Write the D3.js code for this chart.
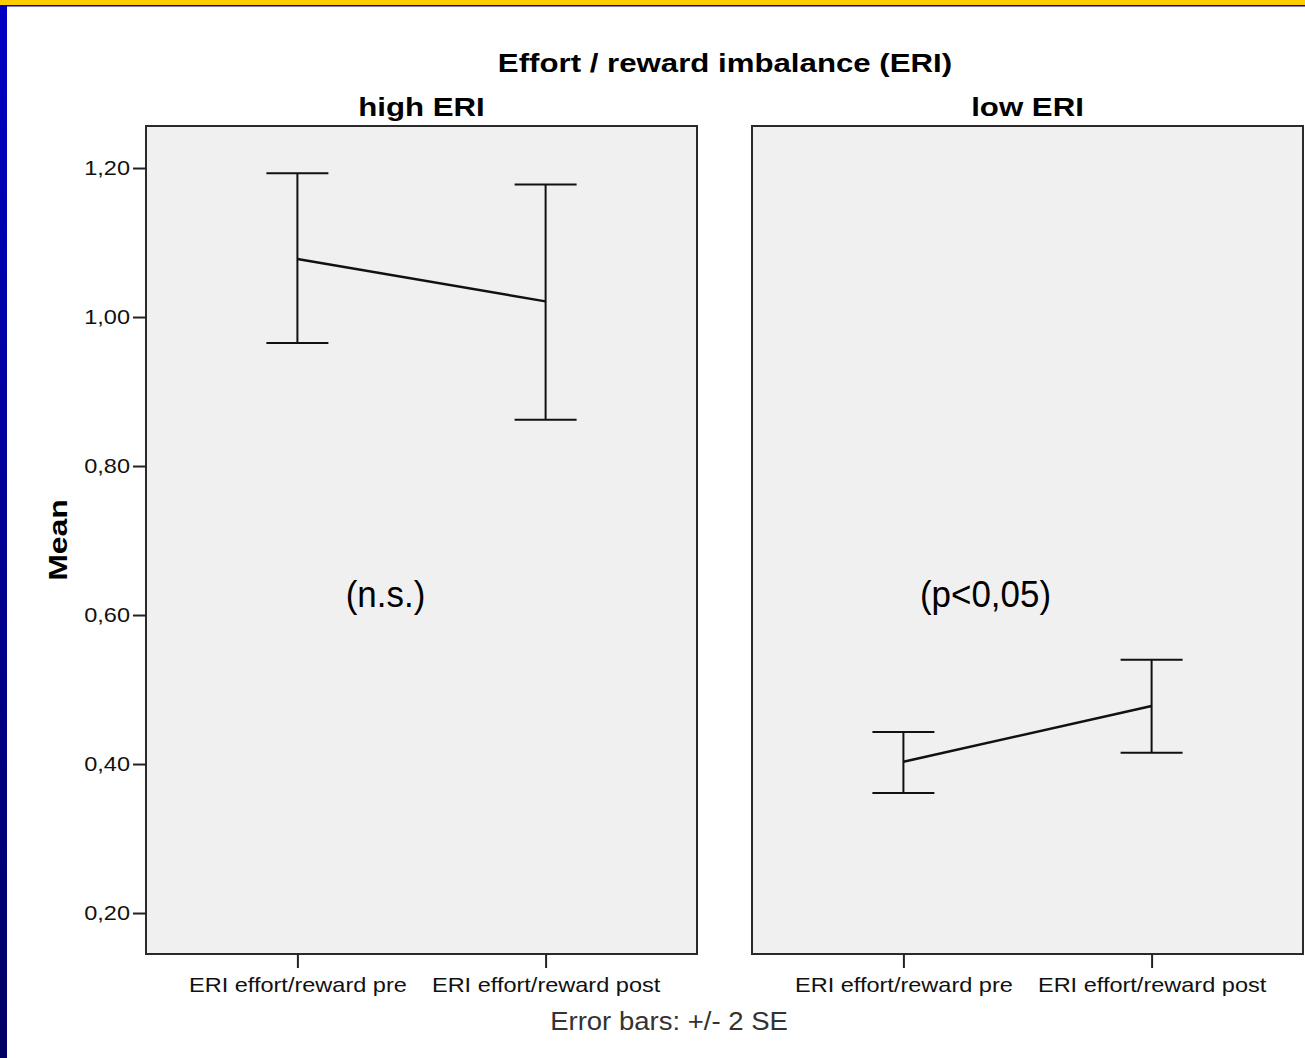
<!DOCTYPE html>
<html>
<head>
<meta charset="utf-8">
<script src="https://cdn.jsdelivr.net/npm/d3@7"></script>
<style>
  body { margin: 0; background: #fff; }
  svg { display: block; }
</style>
</head>
<body>
<div id="chart"></div>
<script>
var panels = ["high ERI", "low ERI"];
var categories = ["ERI effort/reward pre", "ERI effort/reward post"];
var means = [[1.078, 1.021], [0.403, 0.478]];
var upper = [[1.193, 1.178], [0.443, 0.540]];
var lower = [[0.965, 0.862], [0.361, 0.415]];
var notes = ["(n.s.)", "(p<0,05)"];
var yTicks = [0.2, 0.4, 0.6, 0.8, 1.0, 1.2];

// the original text is a bit wider than Arial, stretch it horizontally
function stretch(sel, k) {
  sel.each(function() {
    var w = this.getComputedTextLength();
    d3.select(this).attr("textLength", w * k).attr("lengthAdjust", "spacingAndGlyphs");
  });
}

function plot() {
  var width = 1305, height = 1058;
  var svg = d3.select("#chart").append("svg")
    .attr("width", width)
    .attr("height", height);

  // slide frame
  var grad = svg.append("defs").append("linearGradient")
    .attr("id", "side").attr("x1", 0).attr("y1", 0).attr("x2", 0).attr("y2", 1);
  grad.append("stop").attr("offset", "0%").attr("stop-color", "#0000c4");
  grad.append("stop").attr("offset", "100%").attr("stop-color", "#000064");
  svg.append("rect").attr("x", 0).attr("y", 0).attr("width", width).attr("height", 5).attr("fill", "#ffcc00");
  svg.append("rect").attr("x", 0).attr("y", 5).attr("width", width).attr("height", 1.5).attr("fill", "#0000c4");
  svg.append("rect").attr("x", 0).attr("y", 5).attr("width", 7).attr("height", height).attr("fill", "url(#side)");

  var top = 126, bottom = 954;
  var y = d3.scaleLinear().domain([0.1450, 1.2564]).range([bottom, top]);
  var panelX = [146, 752], panelW = 551;
  var noteShift = [-36, -42];

  var font = "'Liberation Sans', Arial, sans-serif";

  svg.append("text")
    .attr("x", 725).attr("y", 72)
    .attr("text-anchor", "middle")
    .style("font-family", font).style("font-weight", "bold").style("font-size", "26px")
    .text("Effort / reward imbalance (ERI)")
    .call(stretch, 1.2);

  panels.forEach(function(name, p) {
    var x0 = panelX[p];
    var x = d3.scalePoint().domain(categories).range([x0, x0 + panelW]).padding(0.61);
    var g = svg.append("g");

    g.append("rect")
      .attr("x", x0).attr("y", top)
      .attr("width", panelW).attr("height", bottom - top)
      .attr("fill", "#f0f0f0")
      .attr("stroke", "#2a2a2a").attr("stroke-width", 2);

    g.append("text")
      .attr("x", x0 + panelW / 2).attr("y", 116)
      .attr("text-anchor", "middle")
      .style("font-family", font).style("font-weight", "bold").style("font-size", "26px")
      .text(name)
      .call(stretch, 1.2);

    // x axis
    var xa = g.append("g").attr("transform", "translate(0," + bottom + ")")
      .call(d3.axisBottom(x).tickSizeOuter(0).tickSizeInner(14).tickPadding(9));
    xa.select(".domain").remove();
    xa.selectAll("line").attr("stroke", "#222").attr("stroke-width", 2);
    xa.selectAll("text")
      .style("font-family", font).style("font-size", "21px").attr("fill", "#111")
      .call(stretch, 1.12);

    // error bars
    var data = categories.map(function(c, i) {
      return {cat: c, mean: means[p][i], hi: upper[p][i], lo: lower[p][i]};
    });
    var capW = 31;
    data.forEach(function(d) {
      var cx = x(d.cat);
      g.append("line").attr("x1", cx).attr("x2", cx).attr("y1", y(d.hi)).attr("y2", y(d.lo))
        .attr("stroke", "#111").attr("stroke-width", 2);
      g.append("line").attr("x1", cx - capW).attr("x2", cx + capW).attr("y1", y(d.hi)).attr("y2", y(d.hi))
        .attr("stroke", "#111").attr("stroke-width", 2);
      g.append("line").attr("x1", cx - capW).attr("x2", cx + capW).attr("y1", y(d.lo)).attr("y2", y(d.lo))
        .attr("stroke", "#111").attr("stroke-width", 2);
    });

    var line = d3.line().x(function(d) { return x(d.cat); }).y(function(d) { return y(d.mean); });
    g.append("path").datum(data).attr("d", line)
      .attr("fill", "none").attr("stroke", "#111").attr("stroke-width", 2.5);

    g.append("text")
      .attr("x", x0 + panelW / 2 + noteShift[p]).attr("y", 607)
      .attr("text-anchor", "middle")
      .style("font-family", font)
      .style("font-size", "36px").attr("fill", "#000")
      .text(notes[p])
      .call(stretch, 0.97);
  });

  // y axis
  var ya = svg.append("g").attr("transform", "translate(" + panelX[0] + ",0)")
    .call(d3.axisLeft(y).tickValues(yTicks).tickSizeOuter(0).tickSizeInner(13).tickPadding(3)
      .tickFormat(function(d) { return d3.format(".2f")(d).replace(".", ","); }));
  ya.select(".domain").remove();
  ya.selectAll("line").attr("stroke", "#222").attr("stroke-width", 2);
  ya.selectAll("text")
    .style("font-family", font).style("font-size", "21px").attr("fill", "#111")
    .call(stretch, 1.12);

  svg.append("text")
    .attr("transform", "translate(67,540) rotate(-90)")
    .attr("text-anchor", "middle")
    .style("font-family", font).style("font-weight", "bold").style("font-size", "26px")
    .text("Mean")
    .call(stretch, 1.23);

  svg.append("text")
    .attr("x", 669).attr("y", 1030)
    .attr("text-anchor", "middle")
    .style("font-family", font).style("font-size", "25px").attr("fill", "#333")
    .text("Error bars:  +/- 2 SE")
    .call(stretch, 1.1);
}

plot();
</script>
</body>
</html>
